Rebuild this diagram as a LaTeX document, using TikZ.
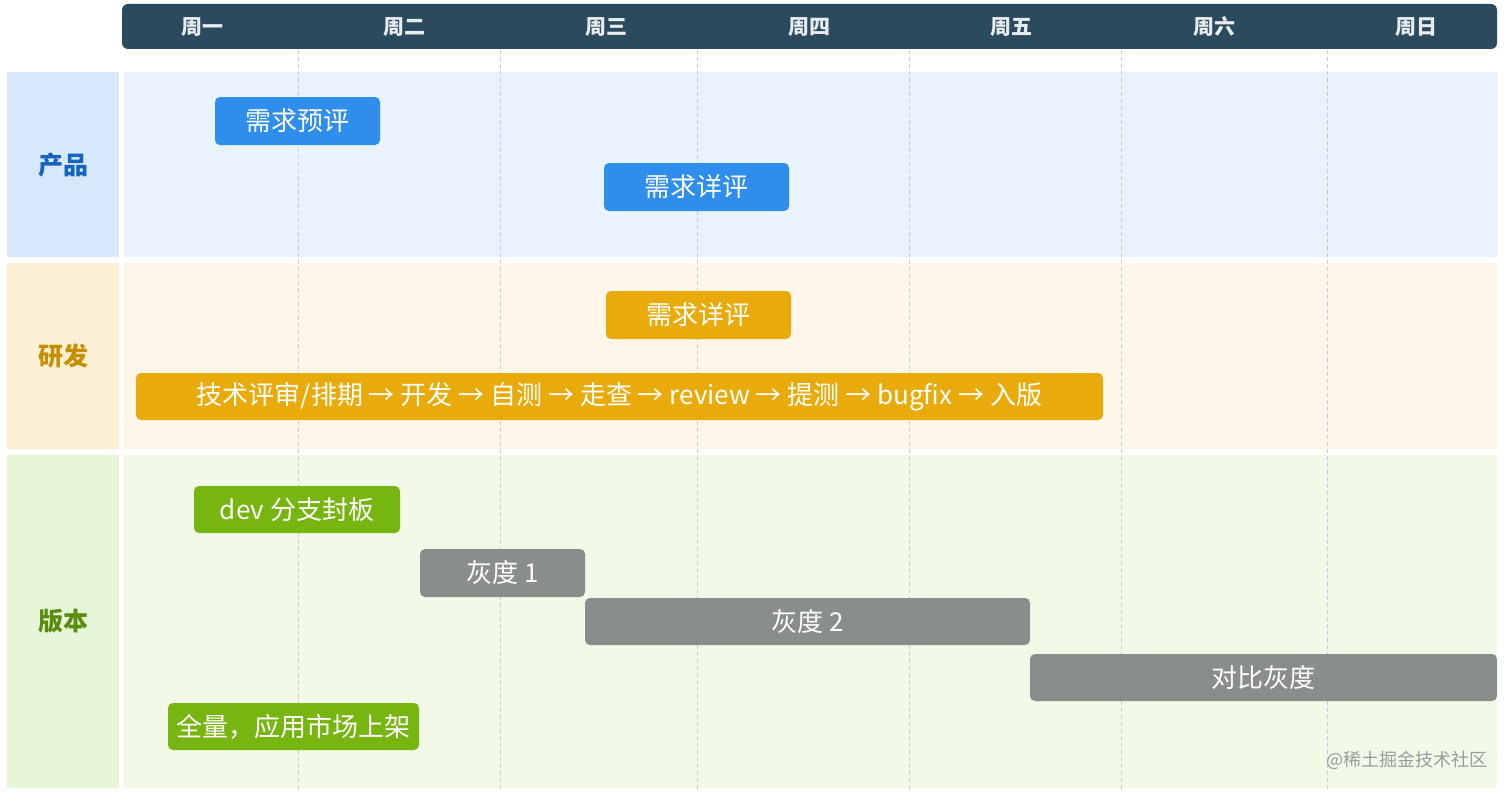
\documentclass[tikz,border=0pt]{standalone}
\usepackage{fontspec}
\setmainfont{Noto Sans CJK SC}
\definecolor{hdr}{HTML}{2C4A5E}
\definecolor{daytxt}{HTML}{E6ECF0}
\definecolor{prodL}{HTML}{D6E8FA}
\definecolor{prodC}{HTML}{E8F3FD}
\definecolor{prodT}{HTML}{1565C0}
\definecolor{devL}{HTML}{FBEFD4}
\definecolor{devC}{HTML}{FDF6E9}
\definecolor{devT}{HTML}{C48F00}
\definecolor{verL}{HTML}{E6F5D8}
\definecolor{verC}{HTML}{F2FAE7}
\definecolor{verT}{HTML}{5A8C10}
\definecolor{blueb}{HTML}{2F8DEC}
\definecolor{orangeb}{HTML}{E9AA0B}
\definecolor{greenb}{HTML}{77B511}
\definecolor{grayb}{HTML}{898D8C}
\definecolor{gridc}{HTML}{C9CCCC}
\definecolor{wmark}{HTML}{9A9C9C}

\begin{document}
\begin{tikzpicture}[
  x=1pt, y=-1pt,
  day/.style={text=daytxt, font=\bfseries\fontsize{21}{21}\selectfont},
  lane/.style={font=\bfseries\fontsize{25}{25}\selectfont},
  bar/.style={rounded corners=5pt, inner sep=0pt, text=white,
              font=\fontsize{26}{26}\selectfont},
  grid/.style={draw=gridc, dash pattern=on 4pt off 3pt, line width=1pt}
]
\fill[white] (0,0) rectangle (1512,792);
\fill[hdr, rounded corners=6pt] (122,4) rectangle (1497,49);
\node[day] (d1) at (202,27)  {周一};
\node[day] (d2) at (404,27)  {周二};
\node[day] (d3) at (606,27)  {周三};
\node[day] (d4) at (809,27)  {周四};
\node[day] (d5) at (1011,27) {周五};
\node[day] (d6) at (1214,27) {周六};
\node[day] (d7) at (1416,27) {周日};

\fill[prodL] (7,72) rectangle (119,257);
\fill[prodC] (124,72) rectangle (1497,257);
\fill[devL] (7,263) rectangle (119,449);
\fill[devC] (124,263) rectangle (1497,449);
\fill[verL] (7,455) rectangle (119,788);
\fill[verC] (124,455) rectangle (1497,788);
\node[lane, text=prodT] (lp) at (63,165) {产品};
\node[lane, text=devT]  (ld) at (63,356) {研发};
\node[lane, text=verT]  (lv) at (63,621) {版本};

\foreach \x in {298,500,697,909,1121,1327}
  \draw[grid] (\x,50) -- (\x,790);

\node[bar, fill=blueb, minimum width=165pt, minimum height=48pt] (pre) at (297.5,121) {需求预评};
\node[bar, fill=blueb, minimum width=185pt, minimum height=48pt] (rev) at (696.5,187) {需求详评};
\node[bar, fill=orangeb, minimum width=185pt, minimum height=48pt] (drev) at (698.5,315) {需求详评};
\node[bar, fill=orangeb, minimum width=967pt, minimum height=47pt] (flow) at (619.5,396.5)
  {技术评审/排期 → 开发 → 自测 → 走查 → review → 提测 → bugfix → 入版};
\node[bar, fill=greenb, minimum width=206pt, minimum height=47pt] (frz) at (297,509.5) {dev 分支封板};
\node[bar, fill=grayb, minimum width=165pt, minimum height=48pt] (g1) at (502.5,573) {灰度 1};
\node[bar, fill=grayb, minimum width=445pt, minimum height=47pt] (g2) at (807.5,621.5) {灰度 2};
\node[bar, fill=grayb, minimum width=467pt, minimum height=47pt] (cmp) at (1263.5,677.5) {对比灰度};
\node[bar, fill=greenb, minimum width=251pt, minimum height=47pt] (full) at (293.5,726.5) {全量，应用市场上架};

\node[text=wmark, font=\fontsize{18}{18}\selectfont, anchor=east] (wm) at (1491,760) {@稀土掘金技术社区};
\end{tikzpicture}
\end{document}
